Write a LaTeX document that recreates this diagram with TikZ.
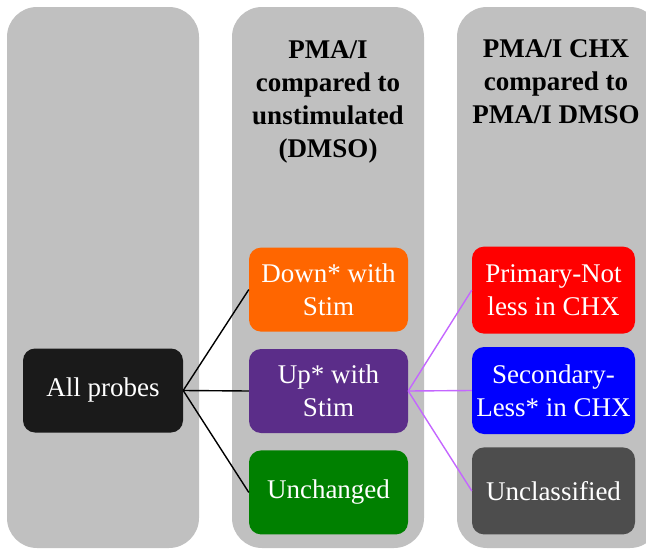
\documentclass[tikz,border=0pt]{standalone}
\usepackage{fontspec}
\setmainfont{Liberation Serif}
\usetikzlibrary{positioning}
\definecolor{panelgray}{HTML}{C0C0C0}
\definecolor{probeblack}{HTML}{1A1A1A}
\definecolor{downorange}{HTML}{FF6600}
\definecolor{uppurple}{HTML}{5B2D89}
\definecolor{samegreen}{HTML}{008000}
\definecolor{primred}{HTML}{FF0000}
\definecolor{secblue}{HTML}{0000FF}
\definecolor{unclgray}{HTML}{4D4D4D}
\definecolor{linklilac}{HTML}{C466FF}

\begin{document}
\begin{tikzpicture}[x=1pt,y=-1pt,
  panel/.style={fill=panelgray,rounded corners=30pt},
  box/.style={rounded corners=12pt,minimum width=160pt,minimum height=84pt,inner sep=2pt,
    text=white,align=center,font=\fontsize{27}{33}\selectfont},
  hdr/.style={align=center,font=\fontsize{27}{33}\selectfont\bfseries},
  link/.style={line width=1.4pt}]
  \clip (0,0) rectangle (646,549);
  % grey columns
  \fill[panel] (7,7) rectangle (199,548);
  \fill[panel] (232,7) rectangle (424,548);
  \fill[panel] (457,7) rectangle (660,548);
  % headers
  \node[hdr] (hdrstim) at (328,101.5) {PMA/I\\compared to\\unstimulated\\(DMSO)};
  \node[hdr] (hdrchx) at (556,82) {PMA/I CHX\\compared to\\PMA/I DMSO};
  % boxes
  \node[box,fill=probeblack] (all) at (103,390.5) {All probes};
  \node[box,fill=uppurple,minimum width=159pt] (up) at (328.5,391) {Up* with\\Stim};
  \node[box,fill=downorange,minimum width=159pt,above=17pt of up] (down) {Down* with\\Stim};
  \node[box,fill=samegreen,minimum width=159pt,below=17pt of up] (same) {Unchanged};
  \node[box,fill=secblue,minimum width=163pt,minimum height=87pt] (sec) at (553.5,390.5) {Secondary-\\Less* in CHX};
  \node[box,fill=primred,minimum width=163pt,minimum height=87pt,above=13pt of sec] (prim) {Primary-Not\\less in CHX};
  \node[box,fill=unclgray,minimum width=163pt,minimum height=87pt,below=13pt of sec] (uncl) {Unclassified};
  % connectors
  \foreach \t in {down,up,same}
    \draw[link,black] (all.east) -- (\t.west);
  \foreach \t in {prim,sec,uncl}
    \draw[link,linklilac] (up.east) -- (\t.west);
\end{tikzpicture}
\end{document}
